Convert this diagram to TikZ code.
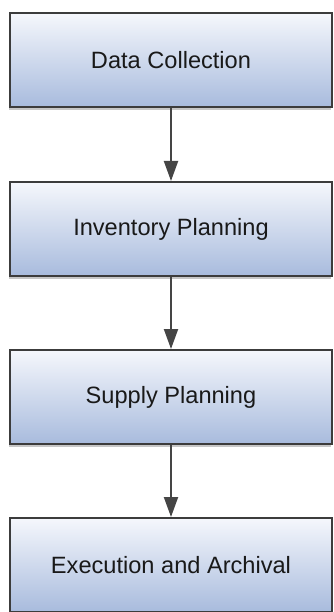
\documentclass[tikz,border=0pt]{standalone}
\usepackage{fontspec}
\setmainfont{Liberation Sans}
\usetikzlibrary{arrows.meta,shadows}
\definecolor{boxtop}{HTML}{F5F7FC}
\definecolor{boxbot}{HTML}{A8BBDD}
\definecolor{edge}{HTML}{3C3C3C}
\definecolor{arrowc}{HTML}{454545}
\tikzset{
  stagebox/.style={draw=edge, line width=2pt, top color=boxtop, bottom color=boxbot,
    minimum width=322pt, minimum height=94pt, inner sep=0pt,
    font=\fontsize{23.6}{27}\selectfont, text=black!90,
    drop shadow={shadow xshift=-1.5pt, shadow yshift=-3pt, fill=black, opacity=0.22}},
  flow/.style={draw=arrowc, line width=2pt, -{Triangle[length=20pt,width=14pt]}}
}
\begin{document}
\begin{tikzpicture}[x=1pt,y=-1pt]
\useasboundingbox (0,0) rectangle (334,612);
\node[stagebox] (a) at (171,60) {Data Collection};
\node[stagebox] (b) at (171,229) {Inventory Planning};
\node[stagebox] (c) at (171,397) {Supply Planning};
\node[stagebox] (d) at (171,565) {Execution and Archival};
\draw[flow] (a) -- (b);
\draw[flow] (b) -- (c);
\draw[flow] (c) -- (d);
\end{tikzpicture}
\end{document}
